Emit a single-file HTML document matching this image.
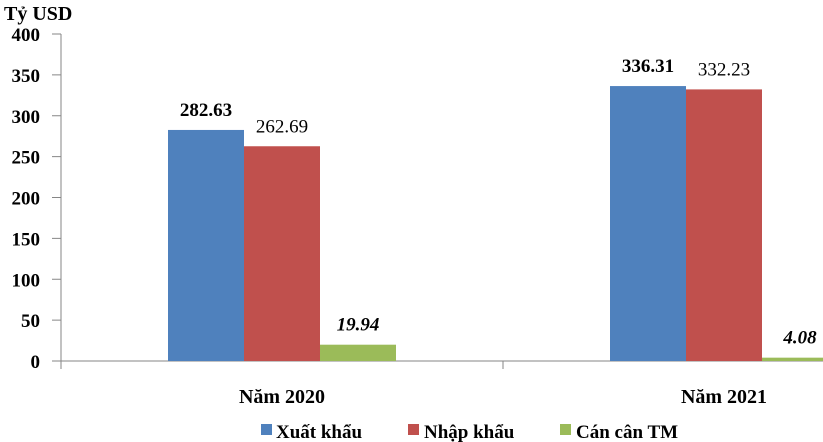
<!DOCTYPE html>
<html><head><meta charset="utf-8">
<style>
html,body{margin:0;padding:0;background:#fff;}
svg{display:block;font-family:"Liberation Serif",serif;}
</style></head>
<body>
<svg id="chart" width="823" height="442" viewBox="0 0 823 442" xmlns="http://www.w3.org/2000/svg">
<text x="4" y="20" font-size="20" font-weight="bold">Tỷ USD</text>
<g id="axes"></g>
<g id="bars"></g>
<g id="legend">
<rect x="261" y="424" width="11" height="11" fill="#4F81BD"/>
<text x="276" y="438" font-size="19" font-weight="bold">Xuất khẩu</text>
<rect x="408" y="424" width="11" height="11" fill="#C0504D"/>
<text x="424" y="438" font-size="19" font-weight="bold">Nhập khẩu</text>
<rect x="560" y="424" width="11" height="11" fill="#9BBB59"/>
<text x="576" y="438" font-size="19" font-weight="bold">Cán cân TM</text>
</g>
</svg>
<script>
const categories = ["Năm 2020", "Năm 2021"];
const exportVals = [282.63, 336.31];
const importVals = [262.69, 332.23];
const balanceVals = [19.94, 4.08];
const exportLabels = ["282.63", "336.31"];
const importLabels = ["262.69", "332.23"];
const balanceLabels = ["19.94", "4.08"];
const yTicks = [0, 50, 100, 150, 200, 250, 300, 350, 400];

const NS = "http://www.w3.org/2000/svg";
const x0 = 61, y0 = 361, yTop = 34, yMax = 400, catW = 442, barW = 76;
const yScale = v => y0 - (v / yMax) * (y0 - yTop);
const catCenter = i => x0 + catW * (i + 0.5);
function mk(tag, attrs, parent) {
  const e = document.createElementNS(NS, tag);
  for (const k in attrs) e.setAttribute(k, attrs[k]);
  parent.appendChild(e);
  return e;
}
const axes = document.getElementById('axes');
const bars = document.getElementById('bars');
const yl = mk('line', {x1: x0, y1: yTop, x2: x0, y2: y0, stroke: '#868686', 'stroke-width': 1}, axes);


const xl = mk('line', {x1: x0, y1: y0, x2: x0 + catW * categories.length, y2: y0, stroke: '#868686', 'stroke-width': 1}, axes);


yTicks.forEach(t => {
  const y = yScale(t);
  const tk = mk('line', {x1: x0 - 9, y1: y, x2: x0, y2: y, stroke: '#868686'}, axes);
  
  
  const lb = mk('text', {x: 40, y: y + 7, 'font-size': 19, 'font-weight': 'bold', 'text-anchor': 'end'}, axes);
  lb.textContent = t;
  
  
});
for (let i = 0; i <= categories.length; i++) {
  const x = x0 + catW * i;
  const tk = mk('line', {x1: x, y1: y0, x2: x, y2: y0 + 8, stroke: '#868686'}, axes);
  
  
}
categories.forEach((c, i) => {
  const lb = mk('text', {x: catCenter(i), y: 403, 'font-size': 20, 'font-weight': 'bold', 'text-anchor': 'middle'}, axes);
  lb.textContent = c;
  
  
});
const series = [
  {vals: exportVals, labels: exportLabels, color: '#4F81BD', name: 'export', weight: 'bold', style: 'normal'},
  {vals: importVals, labels: importLabels, color: '#C0504D', name: 'import', weight: 'normal', style: 'normal'},
  {vals: balanceVals, labels: balanceLabels, color: '#9BBB59', name: 'balance', weight: 'bold', style: 'italic'}
];
categories.forEach((c, i) => {
  series.forEach((s, j) => {
    const x = catCenter(i) - barW * 1.5 + barW * j;
    const y = yScale(s.vals[i]);
    const r = mk('rect', {x: x, y: y, width: barW, height: y0 - y, fill: s.color}, bars);
    
    
    const t = mk('text', {x: x + barW / 2, y: y - 14, 'font-size': 19, 'font-weight': s.weight, 'font-style': s.style, 'text-anchor': 'middle'}, bars);
    t.textContent = s.labels[i];
    
    
  });
});
</script>
</body></html>
